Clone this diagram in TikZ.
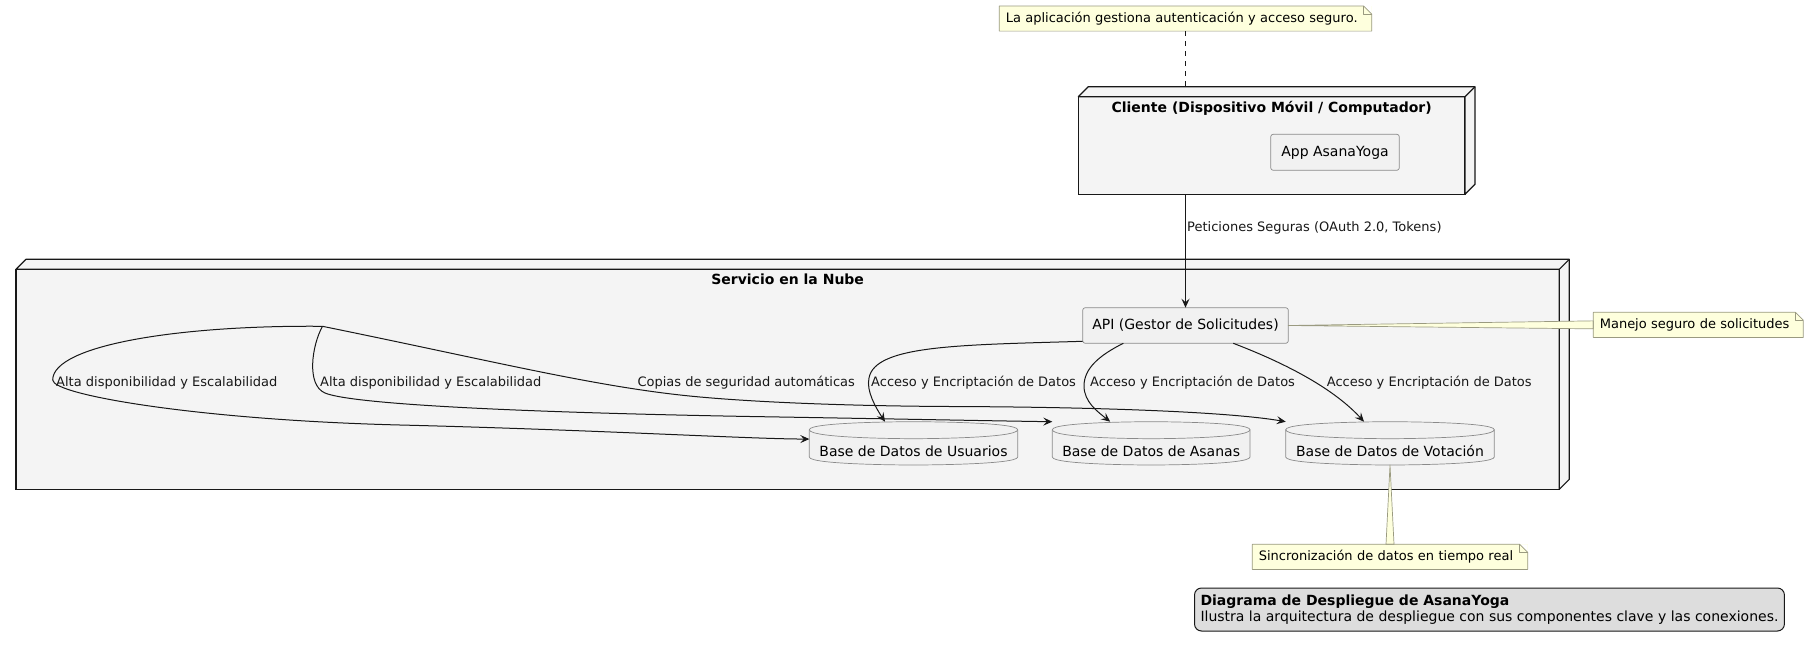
\documentclass[tikz,border=0pt]{standalone}
\usepackage{fontspec}
\setmainfont{DejaVu Sans}
\usetikzlibrary{arrows.meta,calc}
\definecolor{framebg}{HTML}{F4F4F4}
\definecolor{boxbg}{HTML}{F1F1F1}
\definecolor{boxln}{HTML}{8A8A8A}
\definecolor{ink}{HTML}{181818}
\definecolor{notebg}{HTML}{FEFFDD}
\definecolor{noteln}{HTML}{9A9A80}
\definecolor{legbg}{HTML}{DDDDDD}

\newcommand\framedeco[1]{%
  \filldraw[framedecostyle] (#1.north west) -- ++(10,-10) -- ($(#1.north east)+(10,-10)$) -- ($(#1.south east)+(10,-10)$) -- (#1.south east) -- (#1.north east) -- cycle;
  \draw[framedecostyle] (#1.north east) -- ($(#1.north east)+(10,-10)$);
}
\newcommand\dbshape[1]{%
  \filldraw[dbline, fill=boxbg] ($(#1.north west)+(0,8)$) .. controls (#1.north west) and (#1.north) .. (#1.north) .. controls (#1.north) and (#1.north east) .. ($(#1.north east)+(0,8)$) -- ($(#1.south east)+(0,-8)$) .. controls (#1.south east) and (#1.south) .. (#1.south) .. controls (#1.south) and (#1.south west) .. ($(#1.south west)+(0,-8)$) -- cycle;
  \draw[dbline] ($(#1.north west)+(0,8)$) .. controls ($(#1.north west)+(0,17)$) and ($(#1.north)+(0,17)$) .. ($(#1.north)+(0,17)$) .. controls ($(#1.north)+(0,17)$) and ($(#1.north east)+(0,17)$) .. ($(#1.north east)+(0,8)$);
}
\newcommand\notefold[1]{%
  \fill[white] ($(#1.north east)+(-8,0)$) -- (#1.north east) -- ($(#1.north east)+(0,8)$) -- cycle;
  \draw[notelnstyle] (#1.north west) -- ($(#1.north east)+(-8,0)$) -- ($(#1.north east)+(0,8)$) -- (#1.south east) -- (#1.south west) -- cycle;
  \draw[notelnstyle] ($(#1.north east)+(-8,0)$) -- ($(#1.north east)+(-8,8)$) -- ($(#1.north east)+(0,8)$);
}

\begin{document}
\begin{tikzpicture}[x=1pt,y=-1pt,
  frame/.style={draw=ink, fill=framebg, line width=1.2pt, outer sep=0pt, inner sep=0pt},
  framedecostyle/.style={draw=ink, fill=framebg, line width=1.2pt, line join=round},
  box/.style={draw=boxln, fill=boxbg, line width=0.7pt, rounded corners=2.5pt, outer sep=0pt, inner sep=0pt, font=\fontsize{14}{16}\selectfont, text height=10.5pt, text depth=2.5pt},
  dbbox/.style={inner sep=0pt, outer sep=0pt},
  dbline/.style={draw=boxln, line width=0.7pt},
  ntext/.style={inner sep=0pt, font=\fontsize{14}{16}\selectfont},
  ttl/.style={inner sep=0pt, font=\fontsize{14}{16}\selectfont\bfseries},
  lbl/.style={inner sep=0pt, anchor=base west, font=\fontsize{13}{15}\selectfont, text=ink},
  arr/.style={draw=ink, line width=1pt, -{Stealth[length=9pt,width=8pt,inset=3.5pt]}},
  note/.style={fill=notebg, draw=none, inner xsep=6.5pt, inner ysep=6.3pt, outer sep=0pt, text height=10.3pt, text depth=2.2pt, align=left, anchor=north west, font=\fontsize{13}{15}\selectfont},
  notelnstyle/.style={draw=noteln, line width=0.7pt, line join=round},
  wedge/.style={fill=notebg, draw=noteln, line width=0.7pt, line join=round},
  dashln/.style={draw=ink, line width=1pt, dash pattern=on 5pt off 5pt},
  legend/.style={draw=ink, fill=legbg, line width=1pt, rounded corners=7pt, inner xsep=6pt, inner ysep=5pt, align=left, anchor=north west, minimum height=43pt, font=\fontsize{14}{15.7}\selectfont}
]
\useasboundingbox (0,0) rectangle (1809,648);
\fill[white] (0,0) rectangle (1809,648);

% frames
\node[frame, minimum width=1543.3pt, minimum height=220pt] (svc) at (787.65,379.3) {};
\framedeco{svc}
\node[frame, minimum width=386.7pt, minimum height=97.6pt] (cli) at (1271.65,145.5) {};
\framedeco{cli}
\node[ttl, anchor=base] (clittl) at ($(cli.north)+(0,15.6)$) {Cliente (Dispositivo Móvil / Computador)};
\node[ttl, anchor=base] (svcttl) at ($(svc.north)+(0,15.6)$) {Servicio en la Nube};

% inner nodes
\node[box, minimum width=128.6pt, minimum height=36pt] (app) at (1335,152.3) {App AsanaYoga};
\node[box, minimum width=205.6pt, minimum height=35.6pt] (api) at (1185.5,325.5) {API (Gestor de Solicitudes)};

\node[dbbox, minimum width=208.4pt, minimum height=43.3pt] (usr) at (913.5,443.35) {};
\node[dbbox, minimum width=197.7pt, minimum height=43.3pt] (asa) at (1151.15,443.35) {};
\node[dbbox, minimum width=208.6pt, minimum height=43.3pt] (vot) at (1390,443.35) {};
\dbshape{usr}
\dbshape{asa}
\dbshape{vot}
\node[ntext, anchor=base] (usrt) at ($(usr.south)+(0,-8.3)$) {Base de Datos de Usuarios};
\node[ntext, anchor=base] (asat) at ($(asa.south)+(0,-8.3)$) {Base de Datos de Asanas};
\node[ntext, anchor=base] (vott) at ($(vot.south)+(0,-8.3)$) {Base de Datos de Votación};

\coordinate (hub) at (322.5,326.3);
\coordinate (clitop) at ($(cli.north)+(0,-10)$);

% connectors
\draw[arr] (api.north |- cli.south) -- (api.north);
\draw[arr] ([yshift=2pt]api.south west) .. controls (960,345) and (875,345) .. (869,378) .. controls (866,391) and (876,408) .. ([xshift=-28.5pt]usr.north);
\draw[arr] ([xshift=40.6pt]api.south west) .. controls (1100,355) and (1084,368) .. (1084,386) .. controls (1084,402) and (1098,412) .. ([xshift=-41pt]asa.north);
\draw[arr] ([xshift=150.6pt]api.south west) .. controls (1290,365) and (1335,390) .. ([xshift=-26pt]vot.north);

\draw[arr] (hub) .. controls (180,325) and (52.7,345) .. (52.7,380) .. controls (52.7,395) and (200,420) .. (400,425) .. controls (600,430) and (750,439) .. ([yshift=4.3pt]usr.west);
\draw[arr] (hub) .. controls (312,345) and (306,385) .. (325,393) .. controls (350,403.5) and (500,412) .. (750,416.5) .. controls (900,419) and (1000,421) .. (asa.north west);
\draw[arr] (hub) .. controls (500,362.5) and (600,388) .. (700,397) .. controls (760,402.4) and (850,406) .. (950,406.5) .. controls (1100,407) and (1230,412) .. (vot.north west);

% labels
\node[lbl] (l0) at (1187,231.7) {Peticiones Seguras (OAuth 2.0, Tokens)};
\node[lbl] (l1) at (56,386) {Alta disponibilidad y Escalabilidad};
\node[lbl] (l2) at (320,386) {Alta disponibilidad y Escalabilidad};
\node[lbl] (l3) at (637.3,386) {Copias de seguridad automáticas};
\node[lbl] (l4) at (871,386) {Acceso y Encriptación de Datos};
\node[lbl] (l5) at (1090,386) {Acceso y Encriptación de Datos};
\node[lbl] (l6) at (1326.7,386) {Acceso y Encriptación de Datos};

% notes
\node[note, text width=359.4pt] (n1) at (999.3,6) {La aplicación gestiona autenticación y acceso seguro.};
\notefold{n1}
\draw[dashln] (n1.south) -- (n1.south |- clitop);

\node[note, text width=197pt] (n2) at (1593.3,312.3) {Manejo seguro de solicitudes};
\filldraw[wedge] (api.east) -- ($(n2.west)+(0,-4)$) -- ($(n2.west)+(0,4)$) -- cycle;
\notefold{n2}

\node[note, text width=262.4pt] (n3) at (1252.3,544.3) {Sincronización de datos en tiempo real};
\filldraw[wedge] (vot.south) -- ($(n3.north)+(-4,0)$) -- ($(n3.north)+(4,0)$) -- cycle;
\notefold{n3}

% legend
\node[legend] (leg) at (1194,587.5) {\textbf{Diagrama de Despliegue de AsanaYoga}\\Ilustra la arquitectura de despliegue con sus componentes clave y las conexiones.};
\end{tikzpicture}
\end{document}
